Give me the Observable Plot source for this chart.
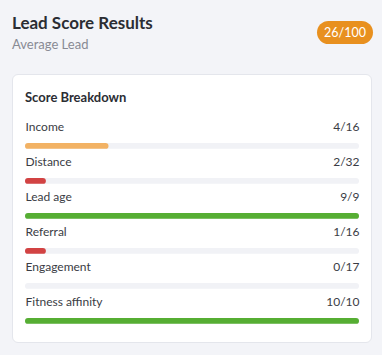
<!DOCTYPE html>
<html>
<head>
<meta charset="utf-8">
<script src="https://cdn.jsdelivr.net/npm/d3@7"></script>
<script src="https://cdn.jsdelivr.net/npm/@observablehq/plot@0.6"></script>
<style>
  html, body { margin: 0; padding: 0; }
  body { width: 382px; height: 355px; background: #f3f4f8; font-family: Lato, "Noto Sans", sans-serif; position: relative; overflow: hidden; }
  .title { position: absolute; left: 12px; top: 12px; font-size: 17px; font-weight: 700; color: #2b2d33; line-height: 22px; }
  .subtitle { position: absolute; left: 12px; top: 35px; font-size: 13px; color: #888a94; line-height: 18px; }
  .badge { position: absolute; left: 317px; top: 21px; width: 56px; height: 23px; border-radius: 12px; background: #e8901f; color: #fff; font-size: 12.5px; line-height: 23px; text-align: center; }
  .card { position: absolute; left: 12px; top: 74px; width: 358px; height: 267px; background: #fff; border: 1px solid #e4e6ec; border-radius: 6px; }
  .card h3 { position: absolute; left: 12px; top: 13px; margin: 0; font-size: 13px; font-weight: 700; color: #2b2d33; line-height: 18px; }
  #chart { position: absolute; left: 12px; top: 38px; }
</style>
</head>
<body>
<div class="title">Lead Score Results</div>
<div class="subtitle">Average Lead</div>
<div class="badge" id="badge"></div>
<div class="card">
  <h3>Score Breakdown</h3>
  <div id="chart"></div>
</div>
<script>
const categories = ["Income", "Distance", "Lead age", "Referral", "Engagement", "Fitness affinity"];
const scores = [4, 2, 9, 1, 0, 10];
const maxima = [16, 32, 9, 16, 17, 10];
const totalScore = 26;
const totalMax = 100;

document.getElementById("badge").textContent = `${totalScore}/${totalMax}`;

const rows = categories.map((name, i) => ({
  name,
  score: scores[i],
  max: maxima[i],
  frac: scores[i] / maxima[i],
  label: `${scores[i]}/${maxima[i]}`
}));

const chart = Plot.plot({
  width: 334,
  height: 213,
  marginLeft: 0,
  marginRight: 0,
  marginTop: 0,
  marginBottom: 1.8,
  style: { fontFamily: "Lato, 'Noto Sans', sans-serif", fontSize: "12px", overflow: "visible" },
  x: { domain: [0, 1], axis: null },
  y: { domain: categories, axis: null, padding: 0 },
  color: { type: "threshold", domain: [0.2, 0.5], range: ["#d24343", "#f2b264", "#56ae33"] },
  marks: [
    Plot.barX(rows, { x1: 0, x2: 1, y: "name", insetTop: 29, insetBottom: 0.2, fill: "#f1f2f6", rx: 3 }),
    Plot.barX(rows.filter(d => d.score > 0), { x1: 0, x2: "frac", y: "name", insetTop: 29, insetBottom: 0.2, fill: d => d.frac, rx: 3 }),
    Plot.text(rows, { x: 0, y: "name", text: "name", textAnchor: "start", dy: -4.6, fill: "#3a3c44" }),
    Plot.text(rows, { x: 1, y: "name", text: "label", textAnchor: "end", dy: -4.6, fill: "#3a3c44" })
  ]
});
document.getElementById("chart").appendChild(chart);
</script>
</body>
</html>
